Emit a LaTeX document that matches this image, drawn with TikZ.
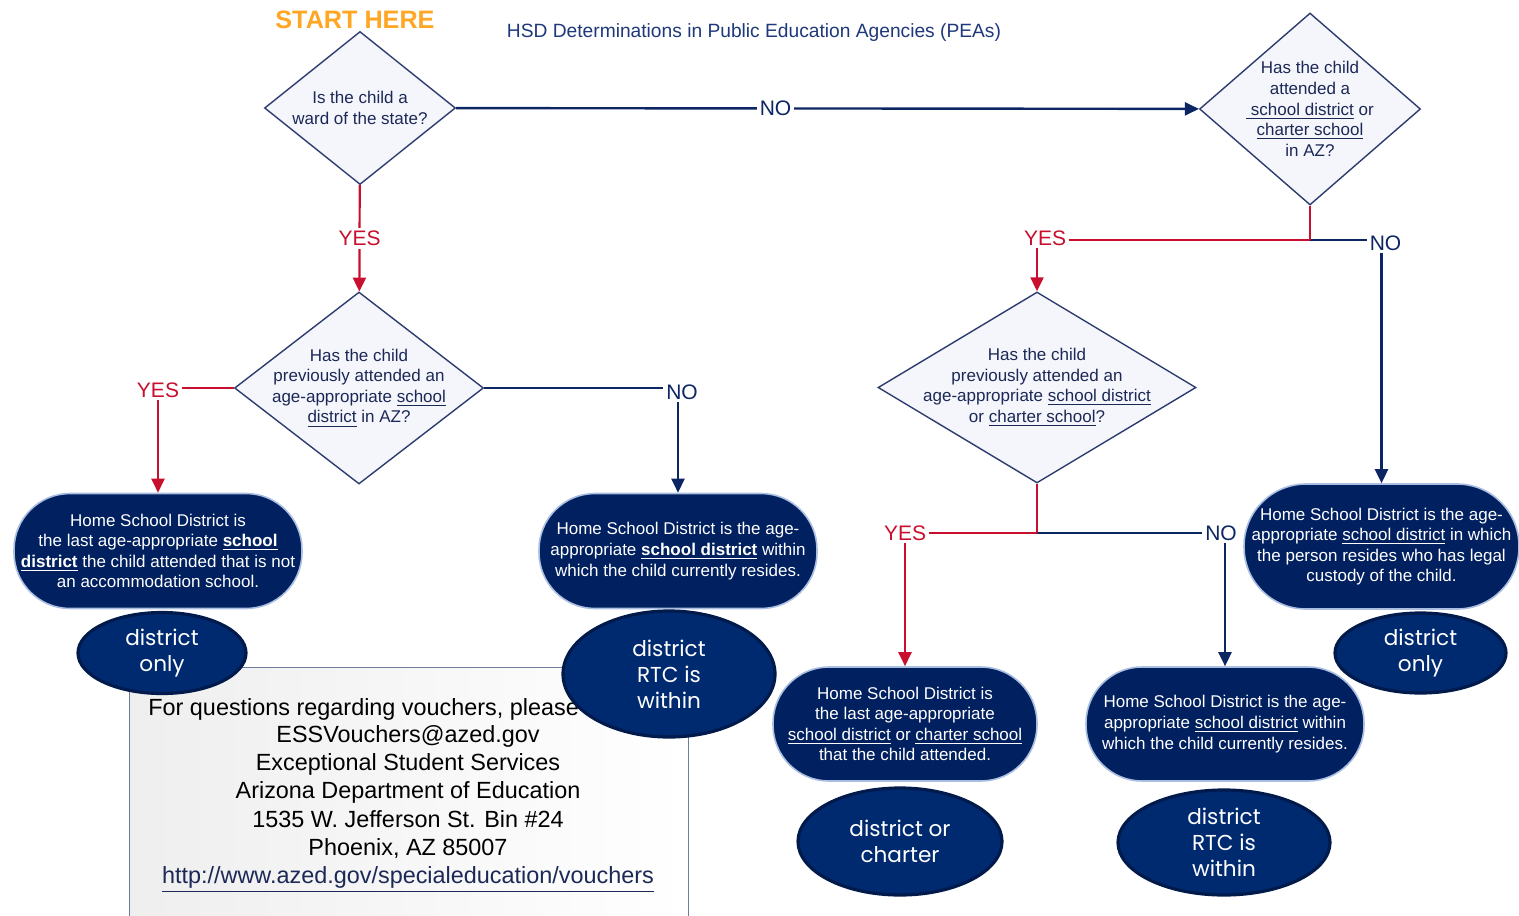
\documentclass[tikz,border=0pt]{standalone}
\usepackage{fontspec}
\setmainfont{Liberation Sans}
\newfontfamily\bubblefont{Poppins}
\usepackage{xcolor}
\usepackage{tikz}
\usetikzlibrary{shapes.geometric, arrows, arrows.meta}
\definecolor{noblue}{RGB}{12,38,100}
\definecolor{yesred}{RGB}{200,16,46}
\definecolor{boxnavy}{RGB}{0,32,96}
\definecolor{boxglow}{RGB}{170,190,225}
\definecolor{bubblenavy}{RGB}{0,42,112}
\definecolor{bubbleedge}{RGB}{0,26,76}
\definecolor{diaborder}{RGB}{45,60,110}
\definecolor{diafill}{RGB}{245,246,251}
\definecolor{asktext}{RGB}{28,40,86}
\definecolor{startorange}{RGB}{255,166,36}
\definecolor{titleblue}{RGB}{30,56,122}
\definecolor{infoedge}{RGB}{110,125,155}
\tikzstyle{decision} = [diamond, draw=diaborder, fill=diafill, line width=0.7pt, inner sep=0pt]
\tikzstyle{question} = [text=asktext, align=center, font=\fontsize{8.5}{10.3}\selectfont]
\tikzstyle{homebox} = [rectangle, rounded corners=28pt, fill=boxnavy, draw=boxglow, line width=0.8pt, text=white, align=center, inner sep=0pt, font=\fontsize{8.5}{10.3}\selectfont]
\tikzstyle{pea} = [ellipse, fill=bubblenavy, draw=bubbleedge, line width=1.6pt, text=white, align=center, inner sep=0pt, font=\bubblefont\fontsize{10.8}{13}\selectfont]
\tikzstyle{yesline} = [draw=yesred, line width=1.1pt]
\tikzstyle{noline} = [draw=noblue, line width=1.2pt]
\tikzstyle{arrow} = [->, >={Triangle[length=7pt,width=6.5pt]}]
\tikzstyle{yeslbl} = [fill=white, inner sep=1.5pt, text=yesred, font=\fontsize{10.5}{12}\selectfont]
\tikzstyle{nolbl} = [fill=white, inner sep=1.5pt, text=noblue, font=\fontsize{10.5}{12}\selectfont]
\tikzstyle{infobox} = [rectangle, draw=infoedge, line width=0.6pt, left color=gray!13, right color=white, inner sep=0pt]
\begin{document}
\begin{tikzpicture}[x=0.5pt, y=-0.5pt]
\useasboundingbox (0,0) rectangle (1519,915);

% headings
\node (start) [text=startorange, font=\bfseries\fontsize{12.6}{14}\selectfont] at (355,20) {START HERE};
\node (title) [text=titleblue, font=\fontsize{9.6}{11}\selectfont] at (754,33) {HSD Determinations in Public Education Agencies (PEAs)};

% questions
\node (ward) [decision, minimum width=95.5pt, minimum height=76.5pt, label={[question]center:{Is the child a\\ward of the state?}}] at (360,108) {};
\node (attendAZ) [decision, minimum width=110.5pt, minimum height=96pt, label={[question]center:{Has the child\\attended a\\\underline{\ school district} or\\\underline{charter school}\\in AZ?}}] at (1310,109) {};
\node (prevDist) [decision, minimum width=124.5pt, minimum height=96pt, label={[question]center:{Has the child\\previously attended an\\age-appropriate \underline{school}\\\underline{district} in AZ?}}] at (359,388) {};
\node (prevAny) [decision, minimum width=159pt, minimum height=95.5pt, label={[question]center:{Has the child\\previously attended an\\age-appropriate \underline{school district}\\or \underline{charter school}?}}] at (1037,387.5) {};

% answers
\node (lastDist) [homebox, minimum width=144pt, minimum height=57.5pt] at (158,551) {Home School District is\\the last age-appropriate \textbf{\underline{school}}\\\textbf{\underline{district}} the child attended that is not\\an accommodation school.};
\node (resDist) [homebox, minimum width=139pt, minimum height=57.5pt] at (678,551) {Home School District is the age-\\appropriate \textbf{\underline{school district}} within\\which the child currently resides.};
\node (lastAny) [homebox, minimum width=132pt, minimum height=57pt] at (905,724) {Home School District is\\the last age-appropriate\\\underline{school district} or \underline{charter school}\\that the child attended.};
\node (resAny) [homebox, minimum width=139pt, minimum height=57pt] at (1225,724) {Home School District is the age-\\appropriate \underline{school district} within\\which the child currently resides.};
\node (custody) [homebox, rounded corners=31pt, minimum width=137.5pt, minimum height=62.5pt] at (1381.5,546.5) {Home School District is the age-\\appropriate \underline{school district} in which\\the person resides who has legal\\custody of the child.};

% contact box
\node (contact) [infobox, minimum width=279.5pt, minimum height=124.5pt, anchor=north west] at (129,667) {};
\node (askline) [anchor=west, inner sep=0pt, font=\fontsize{11.7}{14.1}\selectfont] at (148,709) {For questions regarding vouchers, please};
\node (address) [align=center, inner sep=0pt, font=\fontsize{11.7}{14.1}\selectfont] at (408,809) {ESSVouchers@azed.gov\\Exceptional Student Services\\Arizona Department of Education\\1535 W. Jefferson St. Bin \#24\\Phoenix, AZ 85007\\\textcolor{asktext}{\underline{http://www.azed.gov/specialeducation/vouchers}}};

% PEA bubbles
\node (onlyL) [pea, minimum width=84pt, minimum height=40.5pt] at (162,653) {district\\only};
\node (rtcL) [pea, minimum width=106pt, minimum height=63pt] at (669,674) {district\\RTC is\\within};
\node (either) [pea, minimum width=102pt, minimum height=53.5pt] at (900,841.5) {district or\\charter};
\node (rtcR) [pea, minimum width=106pt, minimum height=52.5pt] at (1224,842.5) {district\\RTC is\\within};
\node (onlyR) [pea, minimum width=85.5pt, minimum height=40pt] at (1420.5,653) {district\\only};

\coordinate (splitTop) at (1310,240);
\coordinate (splitMid) at (1037,533);

% connectors
\draw [noline, arrow] (ward) -- node[nolbl, pos=0.43] {NO} (attendAZ);
\draw [yesline, arrow] (ward) -- node[yeslbl] {YES} (prevDist);
\draw [yesline, arrow] (prevDist.west) -| node[yeslbl, pos=0.5, yshift=-1pt] {YES} (lastDist.north);
\draw [noline, arrow] (prevDist.east) -| node[nolbl, pos=0.5, xshift=2pt, yshift=-2pt] {NO} (resDist.north);
\draw [noline, arrow] (splitTop) -| node[nolbl, pos=0.5, xshift=2pt, yshift=-1.5pt] {NO} (custody.north);
\draw [yesline] (attendAZ.south) -- (splitTop);
\draw [yesline, arrow] (splitTop) -| node[yeslbl, pos=0.5, xshift=4pt, yshift=1pt] {YES} (prevAny.north);
\draw [noline, arrow] (splitMid) -| node[nolbl, pos=0.5, xshift=-2pt] {NO} (resAny.north);
\draw [yesline] (prevAny.south) -- (splitMid);
\draw [yesline, arrow] (splitMid) -| node[yeslbl, pos=0.5] {YES} (lastAny.north);
\end{tikzpicture}
\end{document}
